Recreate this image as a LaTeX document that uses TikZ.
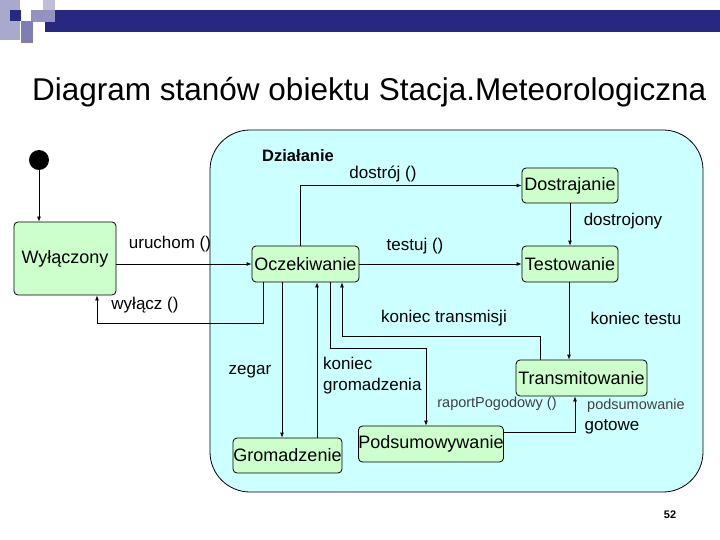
\documentclass[tikz,border=0pt]{standalone}
\usepackage{fontspec}
\setmainfont{Liberation Sans}
\usetikzlibrary{positioning,arrows.meta}
\definecolor{bar}{RGB}{40,40,130}
\definecolor{zone}{RGB}{204,255,255}
\definecolor{stan}{RGB}{204,255,204}
\tikzset{stan/.style={draw, thick, rounded corners=4, fill=stan, inner sep=0pt, font=\fontsize{18}{20}\selectfont}}
\tikzset{arr/.style={draw, -{Latex[length=5pt,width=4pt]}, thick}}
\tikzset{lbl/.style={font=\fontsize{17}{19}\selectfont, inner sep=1pt}}
\begin{document}
\begin{tikzpicture}[x=1pt,y=-1pt]
	\useasboundingbox (0,0) rectangle (720,540);
	% header decoration
	\fill[bar] (45,10) rectangle (720,32);
	\fill[bar!40] (0,0) rectangle (20,40);
	\fill[bar!30] (43,0) rectangle (55,10);
	\fill[bar!50] (31,10) rectangle (55,22);
	\fill[bar] (10,10) rectangle (21,21);
	\fill[bar!60] (21,21) rectangle (33,43);
	\node[font=\fontsize{31.5}{34}\selectfont, anchor=west, inner sep=0pt] (title) at (32,92) {Diagram stanów obiektu Stacja.Meteorologiczna};
	% composite state
	\draw[thick, fill=zone, rounded corners=40] (210,130) rectangle (703,492);
	\node[lbl, font=\fontsize{16.5}{18}\bfseries\selectfont] (dzial) at (298,156) {Działanie};
	% states
	\fill (39,160) circle (10);
	\coordinate (init) at (39,170);
	\node[stan, minimum width=102, minimum height=73] (wyl) at (65,258.5) {Wyłączony};
	\node[stan, minimum width=107, minimum height=36] (ocz) at (305.5,264) {Oczekiwanie};
	\node[stan, minimum width=96, minimum height=35] (dos) at (570,185.5) {Dostrajanie};
	\node[stan, minimum width=96, minimum height=36] (tes) at (570,264) {Testowanie};
	\node[stan, minimum width=131, minimum height=36] (tra) at (581.5,378) {Transmitowanie};
	\node[stan, minimum width=144, minimum height=36] (pod) at (431,444) {Podsumowywanie};
	\node[stan, minimum width=109, minimum height=35] (gro) at (287.5,455.5) {Gromadzenie};
	% transitions
	\draw[arr] (init) -- (wyl.north -| init);
	\draw[arr] (wyl.east |- ocz) -- (ocz);
	\node[lbl] (uru) at (170,244) {uruchom ()};
	\draw[arr] (ocz.south -| 263,0) |- (97,323) -- (wyl.south -| 97,0);
	\node[lbl] (wylacz) at (145,305) {wyłącz ()};
	\draw[arr] (ocz.north -| 300,0) |- (dos.west);
	\node[lbl] (dostroj) at (383,174) {dostrój ()};
	\draw[arr] (dos) -- (tes);
	\node[lbl] (dostrojony) at (623,221) {dostrojony};
	\draw[arr] (ocz) -- (tes);
	\node[lbl] (testuj) at (415,246) {testuj ()};
	\draw[arr] (tes.south -| 569,0) -- (tra.north -| 569,0);
	\node[lbl] (kt) at (636,318) {koniec testu};
	\draw[arr] (tra.north -| 540,0) |- (342,336) -- (ocz.south -| 342,0);
	\node[lbl] (ktr) at (444,318) {koniec transmisji};
	\draw[arr] (ocz.south -| 330,0) |- (426,348) -- (pod.north -| 426,0);
	\node[lbl, align=left, anchor=west, font=\fontsize{17}{21}\selectfont] (kg) at (322,376) {koniec\\gromadzenia};
	\draw[arr] (ocz.south -| 282,0) -- (gro.north -| 282,0);
	\node[lbl] (zeg) at (250,372) {zegar};
	\draw[arr] (gro.north -| 317,0) -- (ocz.south -| 317,0);
	\draw[arr] (pod.east |- 0,432) -| (tra.south -| 575,0);
	\node[lbl, font=\fontsize{14.5}{16}\selectfont, text=black!75] (rap) at (497,404) {raportPogodowy ()};
	\node[lbl, font=\fontsize{14.5}{16}\selectfont, text=black!75] (psum) at (636,406) {podsumowanie};
	\node[lbl] (got) at (612,427) {gotowe};
	\node[font=\fontsize{11}{12}\bfseries\selectfont] (nr) at (670,515) {52};
\end{tikzpicture}
\end{document}
